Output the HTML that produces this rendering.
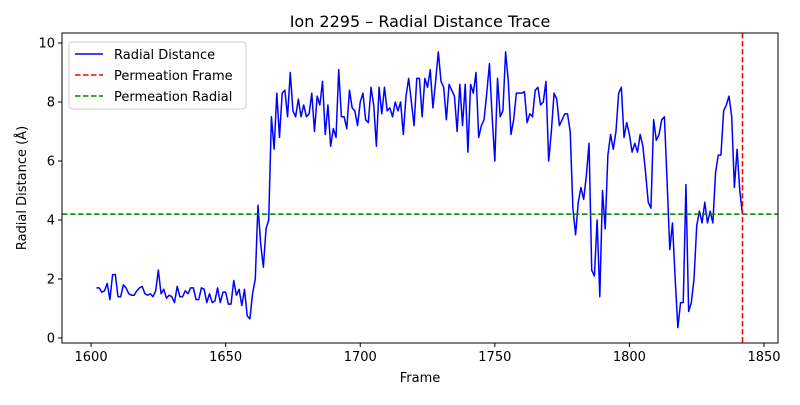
<!DOCTYPE html>
<html><head><meta charset="utf-8"><style>
body{margin:0;background:#fff;}
svg text{font-family:"DejaVu Sans","Liberation Sans",sans-serif;fill:#000;}
</style></head><body>
<svg id="chart" width="800" height="400" xmlns="http://www.w3.org/2000/svg">
<rect width="800" height="400" fill="#fff"/>
<g id="plot"></g>
</svg>
<script>
const startFrame = 1602;
const radial = [1.7,1.7,1.55,1.6,1.85,1.3,2.15,2.15,1.4,1.4,1.8,1.7,1.5,1.45,1.45,1.6,1.7,1.75,1.5,1.45,1.5,1.4,1.6,2.3,1.5,1.65,1.35,1.45,1.4,1.2,1.75,1.4,1.4,1.6,1.5,1.7,1.7,1.3,1.3,1.7,1.65,1.2,1.5,1.2,1.25,1.7,1.2,1.55,1.55,1.15,1.15,1.95,1.45,1.65,1.1,1.65,0.75,0.65,1.5,2.0,
4.5,3.2,2.4,3.7,4.0,7.5,6.4,8.3,6.8,8.3,8.4,7.5,9.0,7.7,7.5,8.1,7.5,7.9,7.5,7.6,8.3,7.0,8.2,7.9,8.7,6.9,7.9,6.5,7.1,6.8,9.1,7.5,7.5,7.1,8.4,7.8,7.7,7.2,8.0,8.3,7.4,7.3,8.5,7.9,6.5,8.5,7.6,8.5,7.7,7.8,7.5,8.0,7.7,8.0,6.9,8.2,8.8,8.0,7.2,8.8,8.8,7.5,8.8,8.5,9.1,7.8,8.7,9.7,8.7,8.5,7.4,8.6,8.4,8.2,7.0,8.6,7.2,8.6,6.3,8.6,8.3,9.0,6.8,7.2,7.4,8.3,9.3,7.5,6.0,8.8,7.5,7.7,9.7,8.7,6.9,7.4,8.3,8.3,8.3,8.35,7.3,7.6,7.5,8.4,8.5,7.9,8.0,8.7,6.0,7.0,8.3,8.1,7.2,7.4,7.6,7.6,7.0,4.4,3.5,4.6,5.1,4.7,5.5,6.6,2.3,2.1,4.0,1.4,5.0,3.7,6.2,6.9,6.4,7.0,8.3,8.5,6.8,7.3,6.9,6.3,6.6,6.3,6.9,6.5,5.6,4.6,4.4,7.4,6.7,6.9,7.4,7.5,5.3,3.0,3.9,2.0,0.35,1.2,1.2,5.2,0.9,1.2,2.0,3.8,4.3,3.9,4.6,3.9,4.3,3.9,5.6,6.2,6.2,7.7,7.9,8.2,7.5,5.1,6.4,5.0,4.2];
const permeationFrame = 1842;
const permeationRadial = 4.2;
const xTicks = [1600,1650,1700,1750,1800,1850];
const yTicks = [0,2,4,6,8,10];

const L=62,R=778,T=33,B=343;
const xMin=1589.2,xMax=1855.2,yMin=-0.17,yMax=10.34;
const X=v=>L+(v-xMin)/(xMax-xMin)*(R-L);
const Y=v=>B-(v-yMin)/(yMax-yMin)*(B-T);
const NS='http://www.w3.org/2000/svg';
const g=document.getElementById('plot');
function mk(tag,attrs,parent){const e=document.createElementNS(NS,tag);for(const k in attrs)e.setAttribute(k,attrs[k]);(parent||g).appendChild(e);return e;}

// series
let d='';
radial.forEach((v,i)=>{d+=(i?'L':'M')+X(startFrame+i).toFixed(2)+','+Y(v).toFixed(2);});
const line=mk('path',{d:d,fill:'none',stroke:'#0000ff','stroke-width':1.5,'stroke-linejoin':'round'});



const hl=mk('line',{x1:L,x2:R,y1:Y(permeationRadial),y2:Y(permeationRadial),stroke:'#008000','stroke-width':1.5,'stroke-dasharray':'5.5,2.5'});


const vl=mk('line',{x1:X(permeationFrame),x2:X(permeationFrame),y1:T,y2:B,stroke:'#ff0000','stroke-width':1.5,'stroke-dasharray':'5.5,2.5'});



const frame=mk('rect',{x:L,y:T,width:R-L,height:B-T,fill:'none',stroke:'#000','stroke-width':1});



xTicks.forEach(t=>{
  const tk=mk('line',{x1:X(t),x2:X(t),y1:B,y2:B+4,stroke:'#000'});
  
  
  const tx=mk('text',{x:X(t),y:B+18,'text-anchor':'middle','font-size':13});
  tx.textContent=t;
  
  
});
yTicks.forEach(t=>{
  const tk=mk('line',{x1:L-4,x2:L,y1:Y(t),y2:Y(t),stroke:'#000'});
  
  
  const tx=mk('text',{x:L-7,y:Y(t)+4.5,'text-anchor':'end','font-size':13});
  tx.textContent=t;
  
  
});
</script>
<svg style="position:absolute;left:0;top:0" width="800" height="400" xmlns="http://www.w3.org/2000/svg">
<text x="420" y="27" text-anchor="middle" font-size="16">Ion 2295 – Radial Distance Trace</text>
<text x="420" y="382" text-anchor="middle" font-size="13">Frame</text>
<text x="26" y="188" text-anchor="middle" font-size="13" transform="rotate(-90 26 188)">Radial Distance (Å)</text>
<g>
<rect x="69" y="42" width="177" height="67" rx="3" fill="#fff" fill-opacity="0.8" stroke="#ccc"/>
<g><line x1="75" x2="103" y1="54" y2="54" stroke="#0000ff" stroke-width="1.5"/><text x="114" y="59" font-size="13">Radial Distance</text></g>
<g><line x1="75" x2="103" y1="75" y2="75" stroke="#ff0000" stroke-width="1.5" stroke-dasharray="5.5,2.5"/><text x="114" y="80" font-size="13">Permeation Frame</text></g>
<g><line x1="75" x2="103" y1="96" y2="96" stroke="#008000" stroke-width="1.5" stroke-dasharray="5.5,2.5"/><text x="114" y="101" font-size="13">Permeation Radial</text></g>
</g>
</svg>
<style>body{position:relative;width:800px;height:400px;overflow:hidden}</style>
</body></html>
